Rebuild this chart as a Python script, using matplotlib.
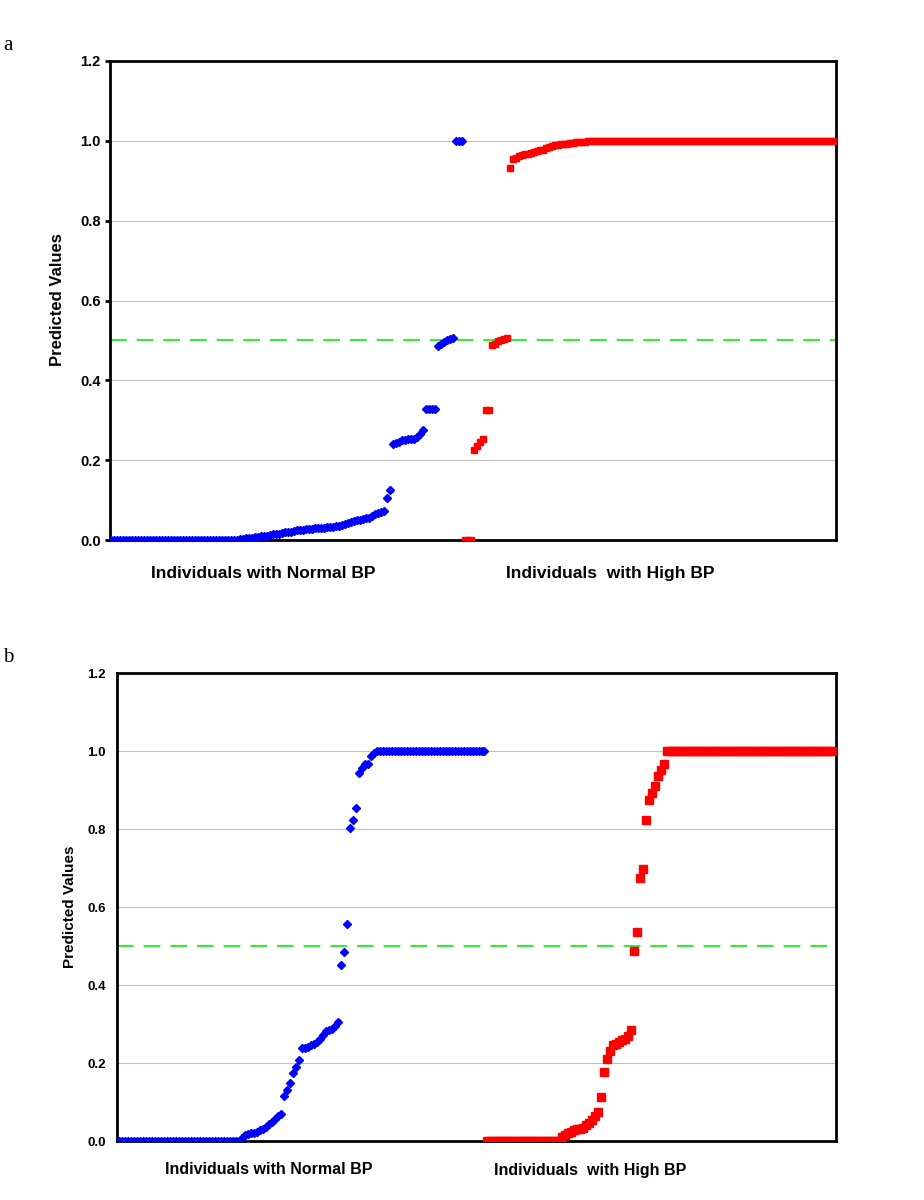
import numpy as np
import matplotlib
matplotlib.use("Agg")
import matplotlib.pyplot as plt

# ---- data (point index on x, predicted value on y) ----
a_normal = ([0.0] * 43 +
            [0.003, 0.003, 0.004, 0.005, 0.006, 0.007, 0.008, 0.009, 0.010, 0.011,
             0.013, 0.014, 0.015, 0.016, 0.018, 0.019, 0.020, 0.021, 0.022, 0.024,
             0.025, 0.026, 0.027, 0.027, 0.028, 0.029, 0.030, 0.030, 0.031, 0.032,
             0.032, 0.033, 0.034, 0.035, 0.037, 0.040, 0.043, 0.046, 0.048, 0.050,
             0.051, 0.052, 0.054, 0.056, 0.060, 0.064, 0.067, 0.070, 0.072, 0.105,
             0.125] +
            [0.240, 0.242, 0.246, 0.250, 0.251, 0.252, 0.253, 0.254, 0.258, 0.265, 0.275] +
            [0.328] * 4 +
            [0.486, 0.490, 0.496, 0.500, 0.503, 0.506] +
            [1.0] * 3)

a_high = ([0.0] * 3 +
          [0.225, 0.235, 0.245, 0.252] +
          [0.325, 0.326] +
          [0.488, 0.490, 0.498, 0.502, 0.504, 0.505] +
          [0.932, 0.955, 0.958, 0.962, 0.964, 0.966, 0.968, 0.970, 0.972, 0.974,
           0.976, 0.978, 0.981, 0.984, 0.987, 0.989, 0.990, 0.991, 0.992, 0.993,
           0.994, 0.995, 0.996, 0.997, 0.998, 0.998, 0.999] +
          [1.0] * 82)

b_normal = ([0.0] * 41 +
            [0.008, 0.016, 0.019, 0.020, 0.021, 0.022, 0.027, 0.032, 0.037, 0.043,
             0.050, 0.056, 0.063, 0.070] +
            [0.115, 0.132, 0.150, 0.175, 0.190, 0.208] +
            [0.238, 0.238, 0.240, 0.246, 0.250, 0.255, 0.262, 0.272, 0.283, 0.285,
             0.287, 0.295, 0.305] +
            [0.451, 0.485, 0.556, 0.803, 0.823, 0.854, 0.944, 0.956, 0.967, 0.967,
             0.987, 0.995] +
            [1.0] * 37)

b_high = ([0.0] * 25 +
          [0.010, 0.015, 0.020, 0.024, 0.027, 0.030, 0.032, 0.034, 0.040, 0.046,
           0.055, 0.065, 0.075] +
          [0.112, 0.176, 0.210, 0.232, 0.245, 0.250, 0.254, 0.258, 0.262, 0.268, 0.285] +
          [0.488, 0.537, 0.675, 0.697, 0.822, 0.875, 0.893, 0.910, 0.935, 0.952, 0.967] +
          [1.0] * 56)

cutoff = 0.5
yticks = [0.0, 0.2, 0.4, 0.6, 0.8, 1.0, 1.2]
group_labels = ["Individuals with Normal BP", "Individuals  with High BP"]

W, H = 924, 1200
fig = plt.figure(figsize=(W / 100, H / 100), dpi=100)
sans = ["Liberation Sans", "DejaVu Sans"]


def px_box(l, t, r, b):
    return [l / W, 1 - b / H, (r - l) / W, (b - t) / H]


def panel(box, normal, high, xlim, ms_d, ms_s, tick_len, pad, fs):
    ax = fig.add_axes(px_box(*box))
    xn = np.arange(len(normal))
    xh = len(normal) + np.arange(len(high))
    for v in yticks[1:-1]:
        ax.axhline(v, color="#c0c0c0", lw=0.8, zorder=0)
    ax.axhline(cutoff, color="#33ee33", lw=1.5, dashes=(8, 4.8), zorder=1)
    ax.plot(xn, normal, ls="none", marker="D", ms=ms_d, color="#0000ff",
            mec="#0000ff", zorder=3)
    ax.plot(xh, high, ls="none", marker="s", ms=ms_s, color="#ff0000",
            mec="#ff0000", zorder=3)
    ax.set_xlim(*xlim)
    ax.set_ylim(0, 1.2)
    ax.set_xticks([])
    ax.set_yticks(yticks)
    ax.set_yticklabels(["%.1f" % v for v in yticks], fontfamily=sans,
                       fontweight="bold", fontsize=fs)
    ax.tick_params(axis="y", direction="out", length=tick_len, width=2.0, pad=pad)
    for s in ax.spines.values():
        s.set_linewidth(2.0)
        s.set_color("black")
    return ax


panel((110, 61, 836, 540), a_normal, a_high, (-0.33, 241.67),
      4.0, 4.2, 3.6, 3.0, 10.5)
panel((117, 673, 836, 1141), b_normal, b_high, (-0.67, 239.33),
      3.8, 5.6, 0, 8.0, 9.5)

# axis titles and group captions
fig.text(58 / W, 1 - 300 / H, "Predicted Values", rotation=90, ha="center",
         va="center", fontfamily=sans, fontweight="bold", fontsize=12)
fig.text(70 / W, 1 - 907 / H, "Predicted Values", rotation=90, ha="center",
         va="center", fontfamily=sans, fontweight="bold", fontsize=11)
fig.text(263 / W, 1 - 574 / H, group_labels[0], ha="center", va="center",
         fontfamily=sans, fontweight="bold", fontsize=12.5)
fig.text(610 / W, 1 - 574 / H, group_labels[1], ha="center", va="center",
         fontfamily=sans, fontweight="bold", fontsize=12.5)
fig.text(269 / W, 1 - 1170 / H, group_labels[0], ha="center", va="center",
         fontfamily=sans, fontweight="bold", fontsize=11.5)
fig.text(590 / W, 1 - 1170 / H, group_labels[1], ha="center", va="center",
         fontfamily=sans, fontweight="bold", fontsize=11.5)

fig.text(3 / W, 1 - 45 / H, "a", ha="left", va="center",
         fontfamily=["Liberation Serif", "DejaVu Serif"], fontsize=15)
fig.text(3 / W, 1 - 657 / H, "b", ha="left", va="center",
         fontfamily=["Liberation Serif", "DejaVu Serif"], fontsize=15)

fig.savefig("out.png", dpi=100, facecolor="white")
